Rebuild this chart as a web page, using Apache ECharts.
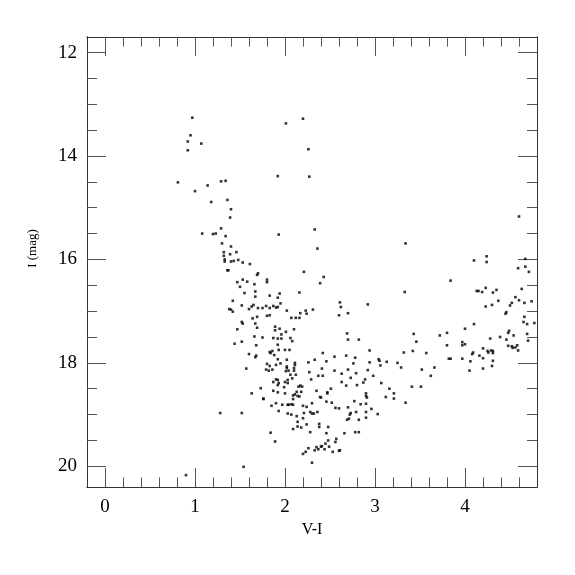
<!DOCTYPE html>
<html><head><meta charset="utf-8">
<script src="https://cdn.jsdelivr.net/npm/echarts@6/dist/echarts.min.js"></script>
<style>html,body{margin:0;padding:0;background:#fff}#c{width:575px;height:575px}</style>
</head><body><div id="c"></div>
<script>
var xTitle = 'V-I';
var yTitle = 'I (mag)';
var xMajor = [0, 1, 2, 3, 4];
var xMinor = [0.2,0.4,0.6,0.8,1.2,1.4,1.6,1.8,2.2,2.4,2.6,2.8,3.2,3.4,3.6,3.8,4.2,4.4,4.6];
var yMajor = [12, 14, 16, 18, 20];
var yMinor = [12.5,13,13.5,14.5,15,15.5,16.5,17,17.5,18.5,19,19.5];
var viColor = [
0.97,0.95,0.92,1.07,0.92,2.01,0.81,1.00,1.14,1.29,1.34,1.18,1.36,1.40,1.39,1.92,2.20,2.26,2.27,4.60,
1.08,1.20,1.23,1.29,1.34,1.93,1.30,1.40,1.32,1.46,1.32,1.39,1.33,1.33,1.40,1.43,1.48,1.53,1.61,1.36,
1.37,1.70,1.69,1.47,1.53,1.58,1.66,1.80,1.80,1.50,1.55,1.67,1.67,1.83,1.94,1.92,1.42,1.52,1.65,1.70,
1.75,1.79,1.83,1.87,1.90,1.92,1.95,2.02,1.38,1.42,1.40,1.60,1.63,1.80,1.83,1.64,1.69,1.52,1.53,1.67,
1.69,1.47,1.89,1.94,1.89,2.01,1.66,1.75,1.87,1.92,1.96,1.52,1.44,1.68,1.92,2.00,1.93,1.83,1.84,1.86,
1.88,1.60,1.68,1.67,1.92,1.80,1.83,1.79,1.82,1.86,1.90,1.95,2.02,1.57,2.01,1.90,1.92,1.87,1.93,2.00,
1.92,2.03,1.73,1.63,1.76,1.87,1.92,2.00,
2.33,2.36,3.34,2.21,2.43,2.39,4.67,4.59,4.67,4.71,4.63,4.74,4.66,4.60,4.56,4.52,4.50,4.46,4.45,4.66,
4.65,4.69,4.77,4.69,4.70,4.10,4.24,4.24,3.84,4.13,4.15,4.19,4.23,4.31,4.35,4.37,4.23,4.30,4.10,4.00,
3.72,3.80,3.80,3.97,3.97,4.00,4.28,4.39,4.46,4.49,4.48,4.54,4.48,4.52,4.53,4.56,4.58,4.59,4.20,4.25,
4.26,4.31,4.31,4.29,4.09,4.08,4.16,4.20,3.97,4.06,4.31,4.30,4.20,4.05,3.82,3.84,3.66,3.62,3.57,3.46,
3.43,3.42,3.52,3.41,3.51,3.32,3.29,3.25,3.33,2.92,2.61,2.62,2.60,2.70,2.69,2.70,2.82,2.16,2.07,2.12,
2.16,2.17,2.23,2.24,2.31,2.10,1.96,2.06,2.08,2.05,2.02,2.11,2.11,2.02,2.04,2.10,2.10,2.06,2.12,2.08,
2.03,1.99,2.15,2.17,2.19,2.13,2.18,2.11,2.09,2.14,2.16,2.09,2.26,2.27,2.29,2.33,2.41,2.42,2.46,2.37,
2.42,2.55,2.55,2.63,2.63,2.68,2.70,2.73,2.68,2.35,2.39,2.47,2.47,2.51,2.78,2.76,2.79,2.80,2.87,2.89,
2.92,2.94,2.94,3.04,3.05,3.06,3.13,2.98,3.07,3.16,3.21,3.21,2.90,2.90,3.12,
1.28,1.52,1.54,0.90,1.76,1.85,1.90,1.93,1.97,2.03,2.03,1.84,1.89,
2.04,2.07,2.09,2.07,2.13,2.09,2.14,2.18,2.14,2.20,2.21,2.20,2.24,2.24,2.28,2.28,2.30,2.32,2.36,2.30,
2.38,2.38,2.48,2.46,2.40,2.46,2.52,2.56,2.60,2.72,2.71,2.69,2.73,2.70,2.77,2.79,2.82,2.84,2.91,2.90,
2.90,2.90,2.96,3.03,3.34,2.78,2.82,2.66,2.57,2.56,2.48,2.49,2.53,2.60,2.61,2.45,2.41,2.44,2.37,2.40,
2.35,2.33,2.26,2.23,2.20,2.30
];
var iMag = [
13.26,13.60,13.72,13.76,13.89,13.37,14.51,14.68,14.57,14.49,14.48,14.89,14.85,15.03,15.19,14.39,13.28,13.87,14.40,15.17,
15.50,15.51,15.50,15.40,15.55,15.52,15.69,15.75,15.86,15.86,15.93,15.90,16.00,16.04,16.04,16.03,16.01,16.06,16.09,16.21,
16.21,16.27,16.30,16.44,16.39,16.43,16.48,16.39,16.44,16.53,16.65,16.62,16.72,16.70,16.66,16.74,16.80,16.89,16.88,16.94,
16.94,16.90,16.94,16.90,16.93,16.92,16.85,16.99,16.96,17.01,16.97,16.96,16.91,17.09,17.08,17.14,17.11,17.21,17.24,17.24,
17.32,17.35,17.30,17.34,17.37,17.40,17.49,17.51,17.52,17.53,17.45,17.59,17.63,17.66,17.65,17.75,17.75,17.79,17.81,17.77,
17.85,17.83,17.86,17.89,17.93,18.02,18.06,18.13,18.15,18.13,18.04,18.01,18.07,18.11,18.16,18.32,18.33,18.37,18.39,18.37,
18.43,18.33,18.49,18.59,18.69,18.54,18.57,18.59,
15.42,15.79,15.69,16.24,16.34,16.46,15.99,16.17,16.14,16.24,16.57,16.81,16.84,16.79,16.73,16.84,16.89,17.02,17.05,17.11,
17.21,17.25,17.23,17.44,17.57,16.02,15.94,16.05,16.41,16.61,16.61,16.63,16.55,16.64,16.59,16.80,16.91,16.88,17.25,17.34,
17.47,17.42,17.66,17.60,17.66,17.64,17.53,17.50,17.55,17.38,17.42,17.47,17.67,17.68,17.71,17.70,17.66,17.76,17.72,17.77,
17.80,17.77,17.81,17.76,17.80,17.83,17.86,17.91,17.92,17.97,17.96,18.06,18.11,18.15,17.92,17.92,18.09,18.25,17.81,17.59,
17.44,17.77,18.13,18.46,18.46,17.80,18.09,18.00,16.63,16.87,16.83,16.92,17.08,17.04,17.43,17.55,17.55,16.64,17.13,17.13,
17.13,17.04,16.99,17.05,16.97,17.35,17.53,17.52,17.58,17.75,17.94,18.00,18.04,18.10,18.15,18.10,18.15,18.23,18.23,18.30,
18.39,18.47,18.46,18.44,18.46,18.56,18.56,18.61,18.63,18.64,18.65,18.70,17.99,18.18,18.32,17.94,18.11,17.81,17.97,18.25,
18.25,17.88,18.15,18.21,18.37,17.86,18.13,18.29,18.44,18.54,18.66,18.57,18.59,18.50,17.90,18.01,18.20,18.43,18.38,18.32,
18.14,17.76,17.99,17.93,17.96,18.05,17.98,18.25,18.39,18.50,18.59,18.69,18.59,18.64,18.66,
18.97,18.97,20.01,20.17,18.70,18.83,18.78,18.93,18.81,18.81,18.98,19.35,19.52,
18.81,18.80,18.81,19.00,19.03,19.28,19.23,19.25,19.14,19.07,18.97,18.83,18.85,19.19,19.34,18.95,18.98,18.98,18.95,18.78,
19.18,19.24,19.24,19.36,18.67,18.75,18.77,18.87,18.88,19.00,19.08,19.10,18.97,18.86,18.74,18.95,19.10,18.80,18.67,18.79,
18.95,19.06,18.89,18.99,18.77,19.34,19.34,19.36,19.47,19.53,19.50,19.62,19.72,19.70,19.69,19.56,19.61,19.67,19.67,19.62,
19.63,19.69,19.65,19.72,19.76,19.93
];
var points = viColor.map(function (v, k) { return [v, iMag[k]]; });

var FONT = 'Liberation Serif';
var LINE = '#333';
var TICK = '#555';
function pick(list) {
  return function (v) {
    for (var k = 0; k < list.length; k++) {
      if (Math.abs(v - list[k]) < 1e-6) return String(list[k]);
    }
    return '';
  };
}
function xAx(pos, vals, len, labels) {
  return {
    type: 'value', position: pos, min: -0.2, max: 4.8, interval: 0.2,
    splitLine: {show: false},
    axisLine: {show: true, onZero: false, lineStyle: {color: LINE, width: 1}},
    axisTick: {show: true, inside: true, length: len, customValues: vals, lineStyle: {color: TICK, width: 1}},
    axisLabel: labels ? {show: true, formatter: pick(xMajor), showMinLabel: true, showMaxLabel: true, hideOverlap: false,
      margin: 11, color: '#000', fontFamily: FONT, fontSize: 19} : {show: false}
  };
}
function yAx(pos, vals, len, labels) {
  return {
    type: 'value', position: pos, min: 11.7, max: 20.4, inverse: true, interval: 0.1,
    splitLine: {show: false},
    axisLine: {show: true, onZero: false, lineStyle: {color: LINE, width: 1}},
    axisTick: {show: true, inside: true, length: len, customValues: vals, lineStyle: {color: TICK, width: 1}},
    axisLabel: labels ? {show: true, formatter: pick(yMajor), hideOverlap: false,
      margin: 10, color: '#000', fontFamily: FONT, fontSize: 19} : {show: false}
  };
}
var xa0 = xAx('bottom', xMajor, 19, true);
xa0.name = xTitle; xa0.nameLocation = 'middle'; xa0.nameGap = 31;
xa0.nameTextStyle = {fontFamily: FONT, fontSize: 16, color: '#000'};
var ya0 = yAx('left', yMajor, 19, true);
ya0.name = yTitle; ya0.nameLocation = 'middle'; ya0.nameGap = 48; ya0.nameRotate = 90;
ya0.nameTextStyle = {fontFamily: FONT, fontSize: 13, color: '#000', padding: [0, 0, 0, 27]};

var chart = echarts.init(document.getElementById('c'), null, {renderer: 'canvas'});
chart.setOption({
  animation: false,
  backgroundColor: '#fff',
  textStyle: {fontFamily: FONT},
  grid: {left: 87, top: 37, right: 38, bottom: 88, containLabel: false},
  xAxis: [xa0, xAx('bottom', xMinor, 9.5, false), xAx('top', xMajor, 19, false), xAx('top', xMinor, 9.5, false)],
  yAxis: [ya0, yAx('left', yMinor, 10, false), yAx('right', yMajor, 19, false), yAx('right', yMinor, 10, false)],
  series: [{
    type: 'scatter', xAxisIndex: 0, yAxisIndex: 0,
    symbol: 'rect', symbolSize: 2.6,
    itemStyle: {color: '#000'},
    data: points
  }]
});
</script>
</body></html>
